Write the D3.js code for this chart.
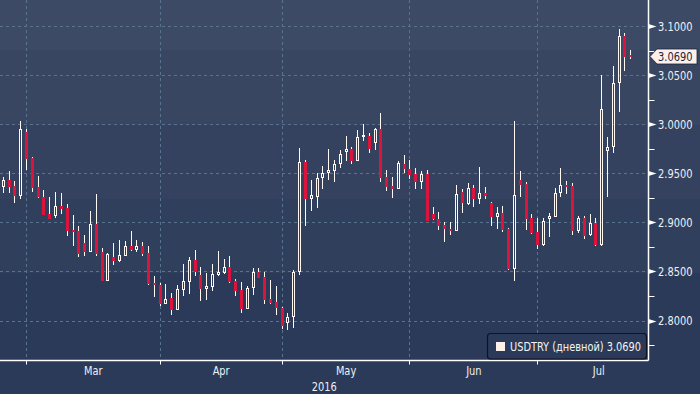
<!DOCTYPE html>
<html><head><meta charset="utf-8">
<script src="https://cdn.jsdelivr.net/npm/d3@7"></script>
<style>
html,body{margin:0;padding:0;background:#2b3a58;}
svg{display:block;}
text{font-family:"DejaVu Sans Condensed","Liberation Sans Narrow","Roboto Condensed","DejaVu Sans",sans-serif;}
</style></head><body>
<svg id="chart" width="700" height="394"></svg>
<script>
// ---- data ----
const seriesName = "USDTRY (дневной)";
const lastValue = 3.0690;
const firstDate = "2016-02-24";
const open = [2.9364,2.9432,2.9371,2.9269,2.9921,2.9659,2.9357,2.9256,2.9086,2.9065,
2.9167,2.9150,2.8923,2.8912,2.8787,2.8702,2.8984,2.8696,2.8403,2.8645,
2.8607,2.8658,2.8760,2.8719,2.8760,2.8685,2.8386,2.8363,2.8169,2.8233,
2.8108,2.8312,2.8396,2.8617,2.8464,2.8322,2.8345,2.8464,2.8488,2.8543,
2.8403,2.8312,2.8118,2.8329,2.8492,2.8441,2.8220,2.8186,2.8125,2.7973,
2.8040,2.8492,2.9618,2.9235,2.9262,2.9449,2.9500,2.9527,2.9592,2.9720,
2.9744,2.9628,2.9867,2.9880,2.9806,2.9948,2.9459,2.9371,2.9337,2.9595,
2.9544,2.9493,2.9415,2.9493,2.9086,2.9035,2.8974,2.8933,2.8916,2.9310,
2.9187,2.9350,2.9241,2.9299,2.9195,2.9058,2.9093,2.8930,2.8529,2.9432,
2.9391,2.9045,2.8902,2.8770,2.9030,2.9058,2.9296,2.9381,2.9374,2.8912,
2.9042,2.8872,2.8991,2.8770,2.9727,2.9765,3.0417,3.0898,3.0705];
const high = [2.9465,2.9523,2.9422,3.0033,2.9948,2.9669,2.9473,2.9330,2.9256,2.9307,
2.9296,2.9184,2.9075,2.8963,2.8872,2.9116,2.9289,2.8736,2.8685,2.8787,
2.8821,2.8811,2.8912,2.8821,2.8797,2.8760,2.8454,2.8383,2.8373,2.8278,
2.8363,2.8576,2.8645,2.8719,2.8543,2.8482,2.8576,2.8709,2.8627,2.8658,
2.8424,2.8396,2.8352,2.8533,2.8533,2.8492,2.8414,2.8356,2.8139,2.8074,
2.8515,2.9755,2.9635,2.9432,2.9500,2.9574,2.9747,2.9635,2.9737,2.9880,
2.9768,2.9941,3.0002,2.9913,2.9958,3.0117,2.9534,2.9465,2.9625,2.9686,
2.9635,2.9551,2.9523,2.9534,2.9154,2.9103,2.9004,2.9004,2.9381,2.9343,
2.9398,2.9381,2.9564,2.9361,2.9208,2.9157,2.9167,2.8940,3.0033,2.9523,
2.9411,2.9086,2.9045,2.9045,2.9091,2.9347,2.9554,2.9422,2.9398,2.9065,
2.9065,2.9086,2.9042,3.0501,2.9873,3.0593,3.0966,3.0932,3.0756];
const low = [2.9303,2.9299,2.9201,2.9233,2.9534,2.9313,2.9252,2.9070,2.9030,2.9048,
2.9086,2.8862,2.8760,2.8651,2.8658,2.8700,2.8658,2.8400,2.8400,2.8566,
2.8594,2.8655,2.8709,2.8696,2.8661,2.8363,2.8243,2.8149,2.8165,2.8057,
2.8105,2.8251,2.8271,2.8454,2.8203,2.8210,2.8302,2.8457,2.8475,2.8386,
2.8251,2.8081,2.8115,2.8261,2.8435,2.8169,2.8169,2.8057,2.7915,2.7904,
2.7922,2.8464,2.8966,2.9119,2.9144,2.9337,2.9432,2.9415,2.9557,2.9628,
2.9595,2.9625,2.9832,2.9710,2.9737,2.9415,2.9323,2.9252,2.9335,2.9500,
2.9439,2.9343,2.9343,2.9015,2.9025,2.8923,2.8804,2.8875,2.8914,2.9099,
2.9174,2.9160,2.9190,2.9238,2.8966,2.8936,2.8902,2.8512,2.8403,2.9256,
2.8923,2.8882,2.8729,2.8760,2.8855,2.9055,2.9262,2.9286,2.8872,2.8895,
2.8831,2.8862,2.8763,2.8763,2.9262,2.9704,3.0127,3.0545,3.0661];
const close = [2.9432,2.9357,2.9269,2.9948,2.9643,2.9353,2.9254,2.9075,2.9035,2.9167,
2.9137,2.8912,2.8902,2.8678,2.8702,2.8981,2.8678,2.8403,2.8678,2.8607,
2.8668,2.8760,2.8719,2.8760,2.8678,2.8373,2.8360,2.8169,2.8217,2.8108,
2.8319,2.8398,2.8617,2.8498,2.8322,2.8352,2.8475,2.8492,2.8543,2.8396,
2.8302,2.8118,2.8335,2.8492,2.8437,2.8210,2.8176,2.8125,2.7948,2.8040,
2.8492,2.9618,2.9235,2.9279,2.9449,2.9500,2.9531,2.9592,2.9694,2.9744,
2.9628,2.9867,2.9890,2.9744,2.9948,2.9455,2.9364,2.9337,2.9608,2.9541,
2.9483,2.9415,2.9493,2.9017,2.9032,2.8966,2.8930,2.8916,2.9286,2.9195,
2.9350,2.9238,2.9296,2.9269,2.9058,2.9093,2.8923,2.8522,2.9276,2.9381,
2.9035,2.8889,2.8770,2.9011,2.9060,2.9296,2.9381,2.9364,2.8912,2.9042,
2.8862,2.8991,2.8770,3.0152,2.9765,3.0417,3.0898,3.0687,3.0690];
const yMajorTicks = [2.80,2.85,2.90,2.95,3.00,3.05,3.10];
const yMinorTicks = [2.775,2.825,2.875,2.925,2.975,3.025,3.075];
const monthLabels = ["Mar","Apr","May","Jun","Jul"];
const yearLabel = "2016";

// ---- layout ----
const W = 700, H = 394;
const plotRight = 648.5, axisY = 360.5;
const svg = d3.select("#chart");

// narrow the text like a condensed face
function condense(sel, factor) {
  sel.each(function(){
    const w = this.getComputedTextLength();
    d3.select(this).attr("textLength", (w*factor).toFixed(1)).attr("lengthAdjust","spacingAndGlyphs");
  });
}

// background bands
const bands = [[0,50,"#3c4a66"],[50,125,"#384662"],[125,199,"#34425f"],[199,273,"#30405c"],[273,394,"#2b3a58"]];
svg.selectAll("rect.bg").data(bands).join("rect").attr("class","bg")
  .attr("x",0).attr("y",d=>d[0]).attr("width",W).attr("height",d=>d[1]-d[0]).attr("fill",d=>d[2]);
svg.append("rect").attr("x",0).attr("y",axisY).attr("width",W).attr("height",H-axisY).attr("fill","#2b3a58");

// dates: weekdays
const start = d3.utcParse("%Y-%m-%d")(firstDate);
const allDays = d3.utcDay.range(start, new Date(Date.UTC(2016,8,1))).filter(d => d.getUTCDay()%6 !== 0);
const dates = allDays.slice(0, open.length);
const data = dates.map((d,i)=>({date:d,o:open[i],h:high[i],l:low[i],c:close[i]}));

const x = d3.scaleLinear().domain([0, data.length-1]).range([3.3, 630.7]);
const y = d3.scaleLinear().domain([2.80, 3.10]).range([320.5, 26]);

// month starts
const monthStart = m => allDays.findIndex(d => d.getUTCMonth() === m);
const months = [2,3,4,5,6].map((m,k)=>{
  const i0 = monthStart(m), i1 = monthStart(m+1);
  return {name: monthLabels[k], tick: x(i0), mid: (x(i0)+x(i1))/2};
});

const gridColor = "#58728f";
// horizontal grid
svg.selectAll("line.hg").data(yMajorTicks).join("line").attr("class","hg")
  .attr("x1",0).attr("x2",plotRight).attr("y1",d=>Math.round(y(d))+0.5).attr("y2",d=>Math.round(y(d))+0.5)
  .attr("stroke",gridColor).attr("stroke-width",1).attr("stroke-dasharray","3,3");
// vertical grid
svg.selectAll("line.vg").data(months).join("line").attr("class","vg")
  .attr("x1",d=>Math.floor(d.tick)+0.5).attr("x2",d=>Math.floor(d.tick)+0.5).attr("y1",0).attr("y2",axisY)
  .attr("stroke",gridColor).attr("stroke-width",1).attr("stroke-dasharray","3,3");

// candles
const g = svg.append("g");
const cand = g.selectAll("g.c").data(data).join("g").attr("class","c");
const red = "#dc143c", white = "#fff8f3";
cand.each(function(d,i){
  const s = d3.select(this);
  const cx = Math.floor(x(i));
  const up = d.c >= d.o;
  const yT = Math.round(y(Math.max(d.o,d.c))), yB = Math.round(y(Math.min(d.o,d.c)));
  const yH = Math.round(y(d.h)), yL = Math.round(y(d.l));
  if (yT > yH) s.append("rect").attr("x",cx).attr("width",1).attr("y",yH).attr("height",yT-yH).attr("fill",white);
  if (yL > yB) s.append("rect").attr("x",cx).attr("width",1).attr("y",yB).attr("height",yL-yB).attr("fill",white);
  if (up) {
    const hgt = Math.max(2, yB-yT);
    s.append("rect").attr("x",cx-0.5).attr("y",yT+0.5).attr("width",2).attr("height",hgt-1)
      .attr("fill","none").attr("stroke",white).attr("stroke-width",1);
  } else {
    s.append("rect").attr("x",cx-1).attr("y",yT).attr("width",3).attr("height",Math.max(2,yB-yT)).attr("fill",red);
  }
});

// axes lines
svg.append("line").attr("x1",0).attr("x2",plotRight).attr("y1",axisY).attr("y2",axisY).attr("stroke","#ffffff").attr("stroke-width",1.5);
svg.append("line").attr("x1",plotRight).attr("x2",plotRight).attr("y1",0).attr("y2",axisY).attr("stroke","#ffffff").attr("stroke-width",1.5);

// x ticks & labels
svg.selectAll("line.xt").data(months).join("line").attr("class","xt")
  .attr("x1",d=>Math.floor(d.tick)+0.5).attr("x2",d=>Math.floor(d.tick)+0.5).attr("y1",axisY).attr("y2",axisY+4)
  .attr("stroke","#fff").attr("stroke-width",1);
svg.selectAll("text.xl").data(months).join("text").attr("class","xl")
  .attr("x",d=>d.mid).attr("y",375).attr("text-anchor","middle").attr("fill","#eef0f4")
  .attr("font-size",13).text(d=>d.name).call(condense,0.84);
svg.append("text").attr("x",plotRight/2).attr("y",391).attr("text-anchor","middle").attr("fill","#eef0f4")
  .attr("font-size",13).text(yearLabel).call(condense,0.84);

// y ticks
svg.selectAll("line.ymin").data(yMinorTicks).join("line").attr("class","ymin")
  .attr("x1",plotRight).attr("x2",plotRight+6).attr("y1",d=>Math.round(y(d))+0.5).attr("y2",d=>Math.round(y(d))+0.5)
  .attr("stroke","#fff").attr("stroke-width",1);
svg.selectAll("path.ymaj").data(yMajorTicks).join("path").attr("class","ymaj")
  .attr("d",d=>{const yy=Math.round(y(d))+0.5; return `M${plotRight},${yy-2.5}L${plotRight+8},${yy}L${plotRight},${yy+2.5}Z`;})
  .attr("fill","#fff");
svg.selectAll("text.yl").data(yMajorTicks).join("text").attr("class","yl")
  .attr("x",658).attr("y",d=>y(d)).attr("dy","0.36em").attr("fill","#eef0f4").attr("font-size",13)
  .text(d=>d3.format(".4f")(d)).call(condense,0.84);

// last value label
const yv = Math.round(y(lastValue))+0.5;
svg.append("path").attr("d",`M650,${yv}L657,${yv-7.5}L697,${yv-7.5}L697,${yv+7.5}L657,${yv+7.5}Z`)
  .attr("fill","#fdf0ea").attr("stroke","#1a2338").attr("stroke-width",0.8);
svg.append("text").attr("x",658).attr("y",yv).attr("dy","0.36em").attr("fill","#1b2540").attr("font-size",13)
  .text(d3.format(".4f")(lastValue)).call(condense,0.84);

// legend
const lg = svg.append("g");
lg.append("rect").attr("x",487.5).attr("y",333.5).attr("width",159).attr("height",25.5).attr("rx",3)
  .attr("fill","#2b3a58").attr("stroke","#0c1322").attr("stroke-width",1.2);
lg.append("rect").attr("x",496).attr("y",342).attr("width",9).attr("height",9).attr("fill","#fdf0ea");
lg.append("text").attr("x",510).attr("y",350.5).attr("fill","#f4f4f4").attr("font-size",12)
  .text(seriesName + " " + d3.format(".4f")(lastValue))
  .attr("textLength",131).attr("lengthAdjust","spacingAndGlyphs");
</script>
</body></html>
